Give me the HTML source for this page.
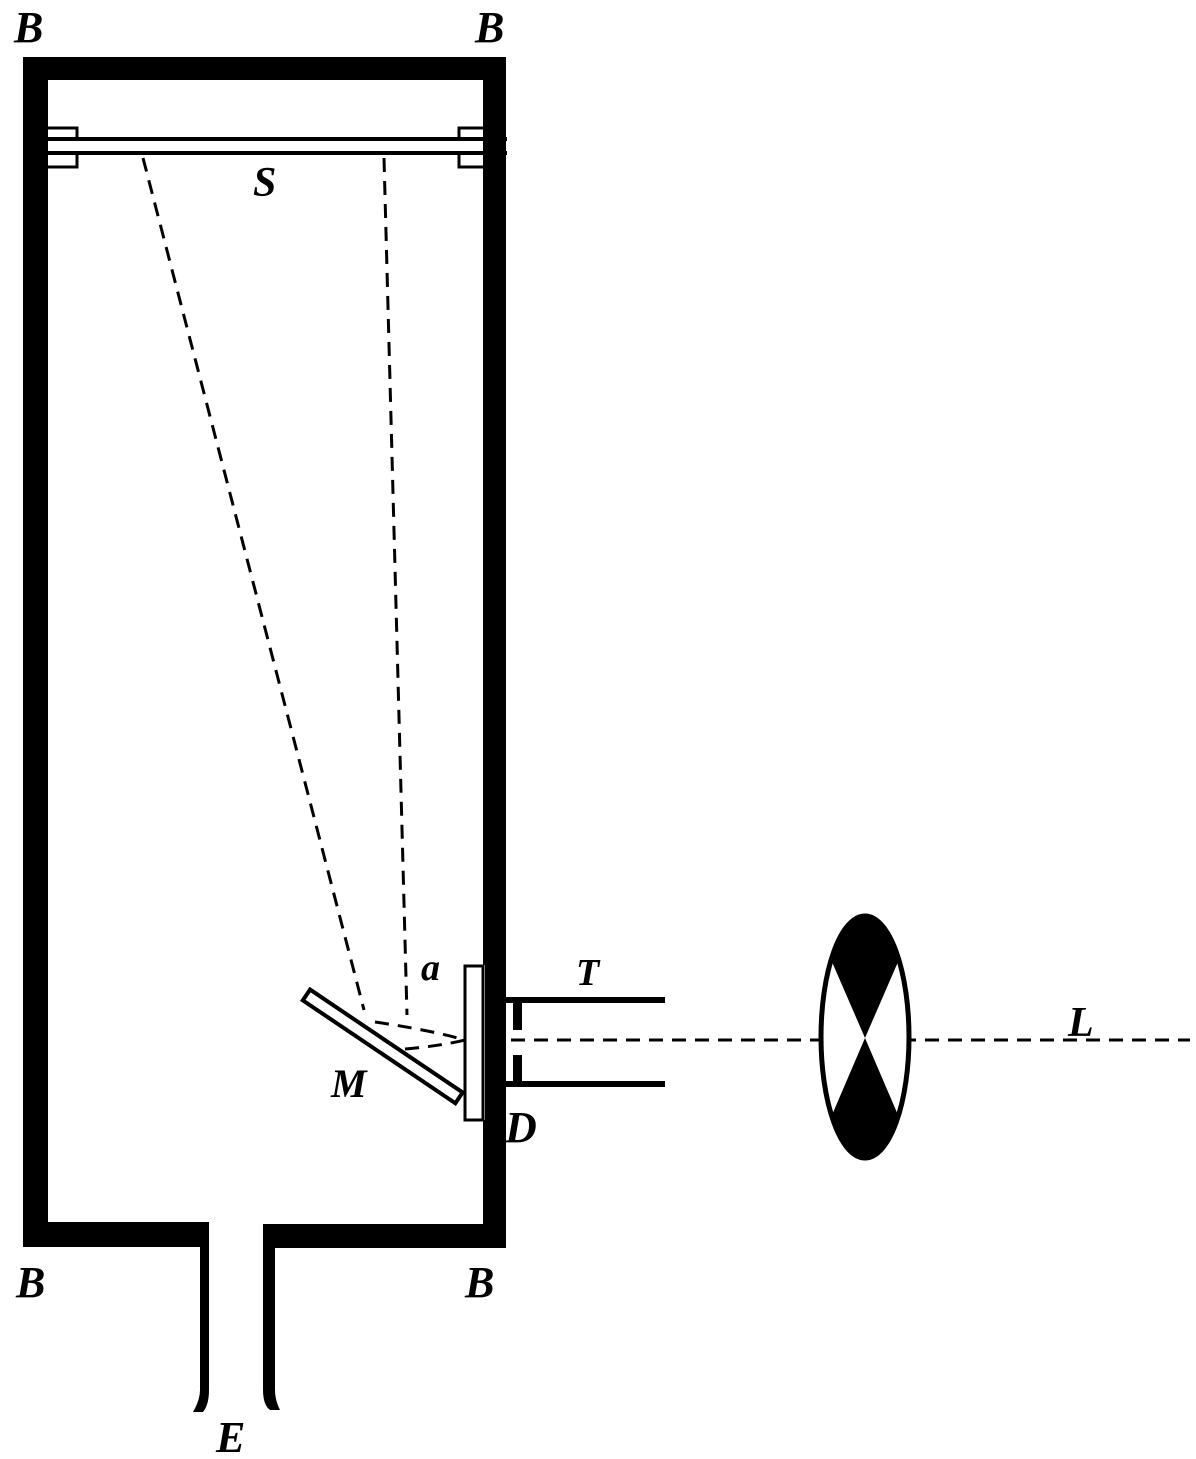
<!DOCTYPE html>
<html><head><meta charset="utf-8"><style>
html,body{margin:0;padding:0;background:#fff;}
svg{display:block;}
text{font-family:"Liberation Serif",serif;font-style:italic;font-weight:bold;fill:#000;}
</style></head><body>
<svg width="1196" height="1459" viewBox="0 0 1196 1459" xmlns="http://www.w3.org/2000/svg">
<defs>
<clipPath id="lc"><ellipse cx="865" cy="1037" rx="46" ry="123"/></clipPath>
</defs>
<!-- box walls -->
<path d="M23 57 H506 V965 H483 V80 H48 V1222 H209 V1247 H23 Z" fill="#000"/>
<rect x="483" y="1120" width="23" height="127" fill="#000"/>
<rect x="263" y="1224" width="243" height="24" fill="#000"/>
<rect x="485" y="965" width="21" height="155" fill="#000"/>
<!-- neck -->
<path d="M200 1240 H209 V1390 Q209 1405 203 1412 H193 Q200 1400 200 1390 Z" fill="#000"/>
<path d="M263 1240 H275 V1390 Q275 1400 280 1410 H270 Q263 1405 263 1390 Z" fill="#000"/>
<!-- S bar -->
<rect x="47" y="137" width="460" height="4" fill="#000"/>
<rect x="47" y="151" width="460" height="4" fill="#000"/>
<path d="M47 128 H77 V138 M47 167 H77 V155" fill="none" stroke="#000" stroke-width="3"/>
<path d="M484 128 H459 V138 M484 167 H459 V155" fill="none" stroke="#000" stroke-width="3"/>
<!-- dashed rays -->
<g stroke="#000" stroke-width="3" fill="none" stroke-dasharray="14,9">
<line x1="143" y1="158" x2="364" y2="1010"/>
<line x1="384" y1="158" x2="407" y2="1015"/>
<path d="M375 1022 Q430 1030 465 1040"/>
<path d="M405 1049 Q440 1046 465 1040"/>
<line x1="465" y1="1040" x2="1190" y2="1040"/>
</g>
<!-- mirror -->
<g transform="translate(383,1046) rotate(34)">
<rect x="-92" y="-6" width="184" height="13" fill="#fff" stroke="#000" stroke-width="4"/>
</g>
<!-- plate D -->
<rect x="465" y="966" width="18" height="154" fill="#fff" stroke="#000" stroke-width="3"/>
<!-- tube T -->
<rect x="505" y="997" width="160" height="6" fill="#000"/>
<rect x="505" y="1081" width="160" height="6" fill="#000"/>
<rect x="513" y="1003" width="9" height="27" fill="#000"/>
<rect x="513" y="1055" width="9" height="27" fill="#000"/>
<!-- lens -->
<ellipse cx="865" cy="1037" rx="44" ry="121" fill="#fff" stroke="#000" stroke-width="5"/>
<g clip-path="url(#lc)">
<polygon points="800,900 930,900 930,955 901,955 865,1038 829,955 800,955" fill="#000"/>
<polygon points="800,1180 930,1180 930,1122 901,1122 865,1038 829,1122 800,1122" fill="#000"/>
</g>
<!-- labels -->
<text x="14" y="42" font-size="44">B</text>
<text x="475" y="42" font-size="44">B</text>
<text x="16" y="1297" font-size="44">B</text>
<text x="465" y="1297" font-size="44">B</text>
<text x="216" y="1452" font-size="44">E</text>
<text x="253" y="196" font-size="42">S</text>
<text x="421" y="980" font-size="38">a</text>
<text x="576" y="985" font-size="38">T</text>
<text x="331" y="1097" font-size="40">M</text>
<text x="505" y="1142" font-size="44">D</text>
<text x="1068" y="1036" font-size="42">L</text>
</svg>
</body></html>
